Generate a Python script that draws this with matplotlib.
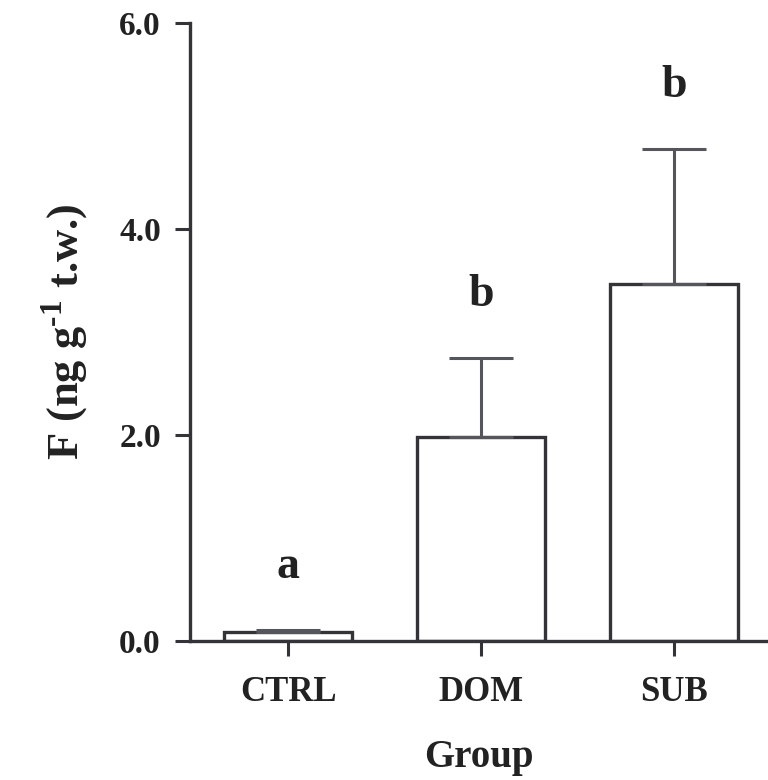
import numpy as np
from matplotlib import pyplot as plt

plt.rcParams['font.family'] = ['Liberation Serif', 'DejaVu Serif']
plt.rcParams['font.weight'] = 'bold'
plt.rcParams['mathtext.fontset'] = 'custom'
plt.rcParams['mathtext.rm'] = 'Liberation Serif:bold'
plt.rcParams['mathtext.bf'] = 'Liberation Serif:bold'

groups = ["CTRL", "DOM", "SUB"]
means = [0.09, 1.98, 3.47]
errs = [0.02, 0.77, 1.31]
letters = ["a", "b", "b"]

dark = '#333338'

fig = plt.figure(figsize=(7.68, 7.8), dpi=100)
ax = fig.add_axes([0.2474, 0.1782, 0.7526, 0.7923])

x = np.arange(len(groups))
ax.bar(x, means, width=0.663, color='white', edgecolor=dark, linewidth=2.4, zorder=2)
ax.errorbar(x, means, yerr=[np.zeros(len(errs)), errs], fmt='none',
            ecolor='#55555c', elinewidth=2.2, capsize=23, capthick=2.2, zorder=3)

for i in range(len(groups)):
    ax.text(x[i], means[i] + errs[i] + 0.5, letters[i], ha='center', va='baseline',
            fontsize=33, fontweight='bold', color='#222')

ax.set_xlim(-0.508, 2.487)
ax.set_ylim(0, 6)
ax.set_yticks([0, 2, 4, 6])
ax.set_yticklabels(["0.0", "2.0", "4.0", "6.0"])
ax.set_xticks(x)
ax.set_xticklabels(groups)

for s in ['top', 'right']:
    ax.spines[s].set_visible(False)
for s in ['left', 'bottom']:
    ax.spines[s].set_linewidth(2.4)
    ax.spines[s].set_color(dark)

ax.tick_params(axis='both', direction='out', length=11, width=2.2, color=dark,
               labelcolor='#222')
ax.tick_params(axis='y', labelsize=24, pad=10)
ax.tick_params(axis='x', labelsize=25, pad=14)
for lab in ax.get_xticklabels() + ax.get_yticklabels():
    lab.set_fontweight('bold')

ax.set_xlabel("Group", fontsize=28, fontweight='bold', color='#222', labelpad=22)
ax.set_ylabel(r"F (ng g$^{\text{-}1}$ t.w.)", fontsize=32, fontweight='bold',
              color='#222', labelpad=20)

plt.savefig("out.png", dpi=100)
